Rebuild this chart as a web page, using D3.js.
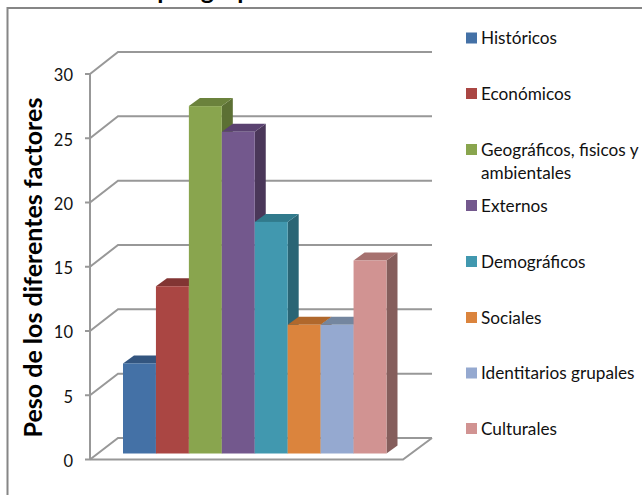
<!DOCTYPE html>
<html lang="es">
<head>
<meta charset="utf-8">
<script src="https://cdn.jsdelivr.net/npm/d3@7"></script>
<style>
  html, body { margin: 0; padding: 0; background: #fff; }
  svg { display: block; }
  text { font-family: Lato, "Open Sans", sans-serif; fill: #111; }
</style>
</head>
<body>
<script>
const categories = ["Históricos", "Económicos", "Geográficos, fisicos y ambientales", "Externos",
                    "Demográficos", "Sociales", "Identitarios grupales", "Culturales"];
const values = [7, 13, 27, 25, 18, 10, 10, 15];
const frontColors = ["#4471a6", "#aa4643", "#89a54e", "#73588d", "#4198af", "#db843d", "#95a9d0", "#d19392"];
const topColors = ["#33557f", "#823533", "#6b823c", "#5a4270", "#317a8c", "#b0682c", "#74869f", "#a6716f"];
const sideColors = ["#2a4669", "#6d2c2a", "#5c7034", "#4a3759", "#2a6575", "#8f5523", "#606f8c", "#855e5c"];
const ticks = [0, 5, 10, 15, 20, 25, 30];
const legendRows = [
  ["Históricos"], ["Económicos"], ["Geográficos, fisicos y", "ambientales"], ["Externos"],
  ["Demográficos"], ["Sociales"], ["Identitarios grupales"], ["Culturales"]
];
const legendY = [38, 93.5, 149.5, 205.5, 261.5, 317.5, 373, 428.5];
const titleText = "identificados por grupo consultado en la zona";
const axisTitle = "Peso de los diferentes factores";

const width = 642, height = 495;
const depthX = 11, depthY = 8;

const svg = d3.select("body").append("svg").attr("width", width).attr("height", height);

// Three parallel value scales: front edge of the floor, back wall, and bar baseline
const yFront = d3.scaleLinear().domain([0, 30]).range([459.5, 74]);
const yBack = d3.scaleLinear().domain([0, 30]).range([438, 52]);
const yBar = d3.scaleLinear().domain([0, 30]).range([453.5, 67.5]);
const x = d3.scaleBand().domain(categories).range([123, 386.5]);

// Chart title, cut off by the upper edge of the page
svg.append("text").attr("x", 8).attr("y", -1)
  .attr("font-size", 25).attr("font-weight", 700).style("fill", "#000").text(titleText);

// Outer frame, running off the right and bottom of the page
svg.append("path").attr("d", `M7.5,${height}V8H${width}`)
  .attr("fill", "none").attr("stroke", "#868686").attr("stroke-width", 2);

const grid = svg.append("g").attr("fill", "none").attr("stroke", "#989898").attr("stroke-width", 2);

// Back-wall gridlines with their diagonal returns to the axis
grid.selectAll("path.wall").data(ticks).join("path").attr("class", "wall")
  .attr("d", d => `M90,${yFront(d)}L118,${yBack(d)}H432`);

// Floor outline
grid.append("path").attr("d", `M90,${yFront(0)}H403L432,${yBack(0)}`);

// Vertical axis and its tick marks
grid.append("path").attr("d", `M90,${yFront(30)}V${yFront(0)}`);
grid.selectAll("path.tick").data(ticks).join("path").attr("class", "tick")
  .attr("d", d => `M85,${yFront(d)}H90`);

svg.append("g").selectAll("text").data(ticks).join("text")
  .attr("x", 73).attr("y", d => yFront(d) + 1.5).attr("dy", "0.35em")
  .attr("text-anchor", "end").attr("font-size", 16.5).text(d => d);

svg.append("text")
  .attr("transform", "translate(42,267.5) rotate(-90)")
  .attr("text-anchor", "middle").attr("font-size", 25).attr("font-weight", 700)
  .style("fill", "#000").text(axisTitle);

// Bars as extruded boxes: side, top, then front face
const bars = svg.append("g").selectAll("g").data(categories).join("g");

bars.append("path").attr("fill", (d, i) => sideColors[i])
  .attr("d", (d, i) => {
    const r = x(d) + x.bandwidth(), t = yBar(values[i]), b = yBar(0);
    return `M${r},${t}l${depthX},${-depthY}V${b - depthY}L${r},${b}Z`;
  });

bars.append("path").attr("fill", (d, i) => topColors[i])
  .attr("d", (d, i) => {
    const l = x(d), t = yBar(values[i]);
    return `M${l},${t}l${depthX},${-depthY}h${x.bandwidth()}l${-depthX},${depthY}Z`;
  });

bars.append("rect").attr("fill", (d, i) => frontColors[i])
  .attr("x", d => x(d)).attr("width", x.bandwidth())
  .attr("y", (d, i) => yBar(values[i]))
  .attr("height", (d, i) => yBar(0) - yBar(values[i]));

// Legend
const legend = svg.append("g").selectAll("g").data(legendRows).join("g")
  .attr("transform", (d, i) => `translate(466,${legendY[i]})`);

legend.append("rect").attr("x", 0).attr("y", -5.5).attr("width", 11).attr("height", 11)
  .attr("fill", (d, i) => frontColors[i]);

legend.selectAll("text").data(d => d).join("text")
  .attr("x", 15).attr("y", (d, i) => i * 23).attr("dy", "0.35em")
  .attr("font-size", 17.2).text(d => d);
</script>
</body>
</html>
